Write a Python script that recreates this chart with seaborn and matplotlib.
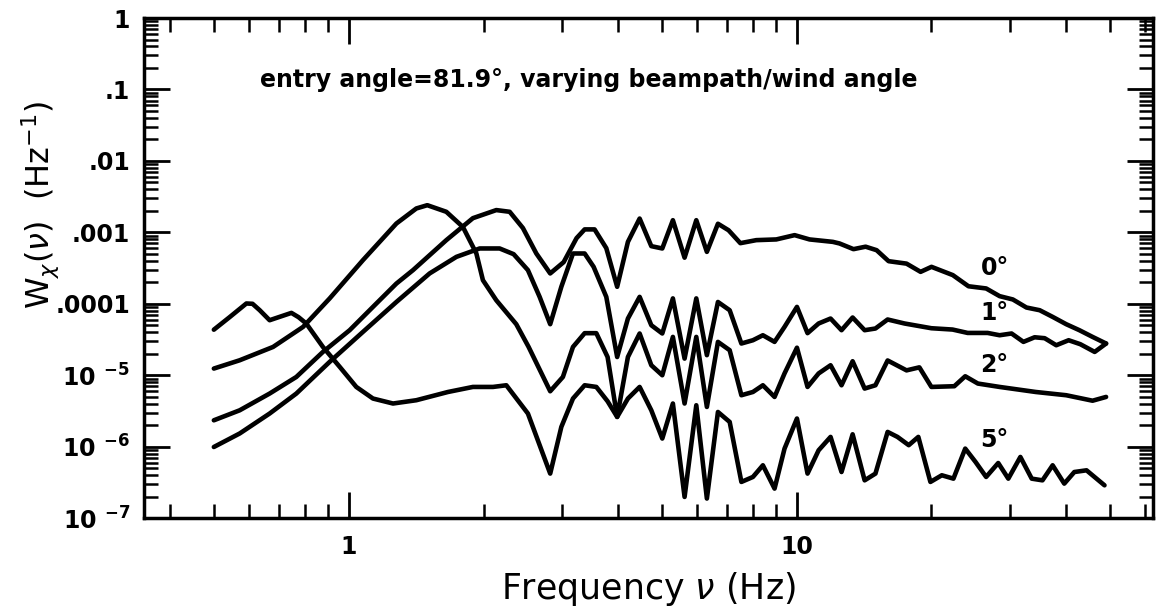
import numpy as np
import pandas as pd
import matplotlib
matplotlib.use("Agg")
import matplotlib.pyplot as plt
import seaborn as sns
from matplotlib.ticker import FixedLocator, FixedFormatter, NullFormatter

# ---------------- data ----------------
freq0 = [0.5, 0.571, 0.666, 0.764, 0.876, 1.005, 1.153, 1.278, 1.392, 1.652,
         1.894, 2.136, 2.288, 2.449, 2.624, 2.818, 3.02, 3.227, 3.364, 3.54,
         3.76, 3.976, 4.202, 4.463, 4.739, 5.014, 5.295, 5.623, 5.972, 6.306,
         6.675, 7.05, 7.49, 8.13, 9.01, 9.90, 10.69, 12.05, 12.47, 13.40,
         14.26, 15.09, 16.05, 17.6, 18.92, 20.01, 22.33, 24.2, 26.5, 28.4,
         30.4, 32.6, 34.9, 37.3, 40.0, 42.8, 45.8, 49.1]
w0 = [2.34e-6, 3.23e-6, 5.54e-6, 9.46e-6, 2.12e-5, 4.27e-5, 1.01e-4, 1.92e-4, 2.96e-4, 7.78e-4,
      1.58e-3, 2.05e-3, 1.94e-3, 1.15e-3, 5.06e-4, 2.66e-4, 3.83e-4, 8.3e-4, 1.10e-3, 1.10e-3,
      6.01e-4, 1.73e-4, 7.36e-4, 1.56e-3, 6.41e-4, 5.95e-4, 1.48e-3, 4.42e-4, 1.48e-3, 5.33e-4,
      1.32e-3, 1.07e-3, 7.06e-4, 7.78e-4, 7.96e-4, 9.14e-4, 7.96e-4, 7.36e-4, 6.99e-4, 5.82e-4,
      6.3e-4, 5.63e-4, 3.95e-4, 3.65e-4, 2.8e-4, 3.29e-4, 2.52e-4, 1.76e-4, 1.64e-4, 1.28e-4,
      1.15e-4, 8.87e-5, 8.13e-5, 6.56e-5, 5.18e-5, 4.27e-5, 3.44e-5, 2.78e-5]

freq1 = [0.5, 0.571, 0.666, 0.764, 0.907, 1.076, 1.278, 1.516, 1.74, 1.961,
         2.173, 2.335, 2.513, 2.669, 2.818, 2.984, 3.168, 3.364, 3.523, 3.76,
         3.976, 4.202, 4.463, 4.739, 5.014, 5.295, 5.623, 5.972, 6.306, 6.675,
         7.09, 7.53, 7.99, 8.41, 8.93, 9.40, 10.02, 10.58, 11.2, 11.91,
         12.6, 13.34, 14.19, 15.0, 15.97, 17.42, 20.0, 22.3, 24.1, 26.7,
         28.4, 30.2, 32.1, 34.0, 35.8, 38.0, 40.5, 43.0, 46.3, 49.1]
w1 = [9.9e-7, 1.53e-6, 2.91e-6, 5.54e-6, 1.54e-5, 4.04e-5, 1.06e-4, 2.66e-4, 4.54e-4, 5.95e-4,
      5.95e-4, 4.95e-4, 2.96e-4, 1.25e-4, 5.18e-5, 1.73e-4, 5.06e-4, 5.06e-4, 3.29e-4, 1.25e-4,
      1.80e-5, 6.22e-5, 1.25e-4, 5.01e-5, 3.84e-5, 1.19e-4, 1.71e-5, 1.19e-4, 1.91e-5, 1.06e-4,
      8.13e-5, 2.78e-5, 3.09e-5, 3.63e-5, 2.93e-5, 4.75e-5, 9.05e-5, 3.88e-5, 5.3e-5, 6.22e-5,
      4.27e-5, 6.43e-5, 4.27e-5, 4.51e-5, 6.03e-5, 5.3e-5, 4.55e-5, 4.36e-5, 3.91e-5, 3.91e-5,
      3.63e-5, 3.84e-5, 2.93e-5, 3.4e-5, 3.3e-5, 2.63e-5, 3.09e-5, 2.72e-5, 2.12e-5, 2.78e-5]

freq2 = [0.5, 0.571, 0.678, 0.791, 0.907, 1.076, 1.278, 1.416, 1.498, 1.652,
         1.799, 1.928, 1.994, 2.136, 2.367, 2.522, 2.818, 3.008, 3.168, 3.364,
         3.572, 3.785, 3.976, 4.202, 4.463, 4.739, 5.014, 5.295, 5.623, 5.972,
         6.306, 6.675, 7.09, 7.53, 7.99, 8.41, 8.93, 9.40, 10.02, 10.58,
         11.2, 11.91, 12.6, 13.34, 14.19, 15.0, 15.97, 17.6, 18.8, 20.0,
         22.5, 23.8, 25.4, 28.4, 34.2, 40.0, 45.8, 49.1]
w2 = [1.24e-5, 1.62e-5, 2.49e-5, 4.75e-5, 1.19e-4, 4.08e-4, 1.33e-3, 2.16e-3, 2.4e-3, 1.94e-3,
      1.19e-3, 5.06e-4, 2.14e-4, 1.12e-4, 5.18e-5, 2.49e-5, 5.97e-6, 9.46e-6, 2.49e-5, 3.88e-5,
      3.88e-5, 1.8e-5, 2.61e-6, 1.8e-5, 3.84e-5, 1.38e-5, 1.0e-5, 3.44e-5, 4.02e-6, 3.44e-5,
      3.6e-6, 2.93e-5, 2.24e-5, 5.25e-6, 5.83e-6, 7.24e-6, 4.97e-6, 1.06e-5, 2.43e-5, 6.86e-6,
      1.06e-5, 1.38e-5, 7.24e-6, 1.57e-5, 6.51e-6, 7.24e-6, 1.61e-5, 1.17e-5, 1.29e-5, 6.86e-6,
      7.02e-6, 9.68e-6, 7.65e-6, 6.86e-6, 5.83e-6, 5.25e-6, 4.4e-6, 4.97e-6]

freq5 = [0.5, 0.542, 0.591, 0.61, 0.633, 0.666, 0.745, 0.773, 0.804, 0.876,
         0.955, 1.040, 1.133, 1.256, 1.416, 1.666, 1.894, 2.10, 2.249, 2.513,
         2.818, 2.984, 3.168, 3.364, 3.572, 3.785, 3.976, 4.202, 4.463, 4.739,
         5.014, 5.295, 5.623, 5.972, 6.306, 6.675, 7.09, 7.53, 7.99, 8.41,
         8.93, 9.40, 10.02, 10.58, 11.2, 11.91, 12.6, 13.34, 14.19, 15.0,
         15.97, 16.8, 17.8, 18.7, 19.9, 21.1, 22.4, 23.8, 25.1, 26.5,
         28.2, 29.7, 31.6, 33.5, 35.4, 37.3, 39.6, 41.7, 44.4, 48.7]
w5 = [4.34e-5, 6.49e-5, 1.01e-4, 1.0e-4, 8.13e-5, 5.89e-5, 7.46e-5, 6.49e-5, 5.3e-5, 2.49e-5,
      1.31e-5, 6.86e-6, 4.72e-6, 4.02e-6, 4.47e-6, 5.83e-6, 6.86e-6, 6.86e-6, 7.24e-6, 2.91e-6,
      4.2e-7, 1.89e-6, 4.72e-6, 7.24e-6, 6.86e-6, 4.32e-6, 2.61e-6, 4.72e-6, 6.86e-6, 3.23e-6,
      1.3e-6, 4.02e-6, 1.98e-7, 3.8e-6, 1.88e-7, 3.06e-6, 2.22e-6, 3.21e-7, 3.77e-7, 5.49e-7,
      2.59e-7, 9.4e-7, 2.48e-6, 4.2e-7, 8.9e-7, 1.37e-6, 4.42e-7, 1.49e-6, 3.38e-7, 4.2e-7,
      1.61e-6, 1.37e-6, 1.05e-6, 1.37e-6, 3.21e-7, 3.98e-7, 3.57e-7, 9.4e-7, 6.1e-7, 3.77e-7,
      5.91e-7, 3.57e-7, 7.18e-7, 3.57e-7, 3.38e-7, 5.49e-7, 3.04e-7, 4.42e-7, 4.67e-7, 2.88e-7]

angle_labels = ["0°", "1°", "2°", "5°"]
xtick_values = [1, 10]
xtick_labels = ["1", "10"]
ytick_values = [1e-7, 1e-6, 1e-5, 1e-4, 1e-3, 1e-2, 1e-1, 1]
ytick_labels = [r"10 $^{\mathbf{-7}}$", r"10 $^{\mathbf{-6}}$", r"10 $^{\mathbf{-5}}$",
                ".0001", ".001", ".01", ".1", "1"]
title_text = "entry angle=81.9°, varying beampath/wind angle"

# ---------------- build long table ----------------
frames = []
for lab, f, w in zip(angle_labels, [freq0, freq1, freq2, freq5], [w0, w1, w2, w5]):
    frames.append(pd.DataFrame({"freq": f, "W": w, "angle": lab}))
df = pd.concat(frames, ignore_index=True)

# ---------------- plot ----------------
sns.set_theme(style="ticks", rc={"text.color": "black", "axes.labelcolor": "black",
                                 "xtick.color": "black", "ytick.color": "black",
                                 "axes.edgecolor": "black"})
plt.rcParams["font.family"] = ["DejaVu Sans"]
plt.rcParams["mathtext.fontset"] = "dejavusans"

fig = plt.figure(figsize=(11.7, 6.11), dpi=100)
ax = fig.add_axes([0.123, 0.152, 0.8625, 0.8185])

sns.lineplot(data=df, x="freq", y="W", hue="angle", units="angle", estimator=None,
             palette=["black"] * 4, linewidth=3.3, sort=False, legend=False, ax=ax)

ax.set_xscale("log")
ax.set_yscale("log")
ax.set_xlim(0.349, 62.5)
ax.set_ylim(1e-7, 1)

ax.xaxis.set_major_locator(FixedLocator(xtick_values))
ax.xaxis.set_major_formatter(FixedFormatter(xtick_labels))
ax.xaxis.set_minor_locator(matplotlib.ticker.LogLocator(base=10, subs=np.arange(2, 10), numticks=20))
ax.xaxis.set_minor_formatter(NullFormatter())
ax.yaxis.set_major_locator(FixedLocator(ytick_values))
ax.yaxis.set_major_formatter(FixedFormatter(ytick_labels))
ax.yaxis.set_minor_locator(matplotlib.ticker.LogLocator(base=10, subs=np.arange(2, 10), numticks=20))
ax.yaxis.set_minor_formatter(NullFormatter())

ax.tick_params(which="both", direction="in", top=True, right=True, colors="black")
ax.tick_params(which="major", length=19, width=2.0, labelsize=17, pad=10)
ax.tick_params(axis="x", which="major", pad=12)
ax.tick_params(which="minor", length=10, width=1.8)
for lbl in ax.get_xticklabels() + ax.get_yticklabels():
    lbl.set_fontweight("bold")

for sp in ax.spines.values():
    sp.set_linewidth(2.5)
    sp.set_color("black")

ax.set_xlabel(r"Frequency $\nu$ (Hz)", fontsize=25, labelpad=8, color="black")
ax.set_ylabel("")
ax.text(-0.103, 0.626, r"W$_\chi$($\nu$)  (Hz$^{-1}$)", transform=ax.transAxes,
        rotation=90, ha="center", va="center", fontsize=23, color="black")

ax.text(0.115, 0.876, title_text, transform=ax.transAxes, ha="left", va="center",
        fontsize=17, fontweight="bold", color="black")

label_y = [0.50, 0.41, 0.306, 0.156]
for lab, yy in zip(angle_labels, label_y):
    ax.text(0.843, yy, lab, transform=ax.transAxes, ha="center", va="center",
            fontsize=17, fontweight="bold", color="black")

fig.savefig("out.png", dpi=100, facecolor="white")
